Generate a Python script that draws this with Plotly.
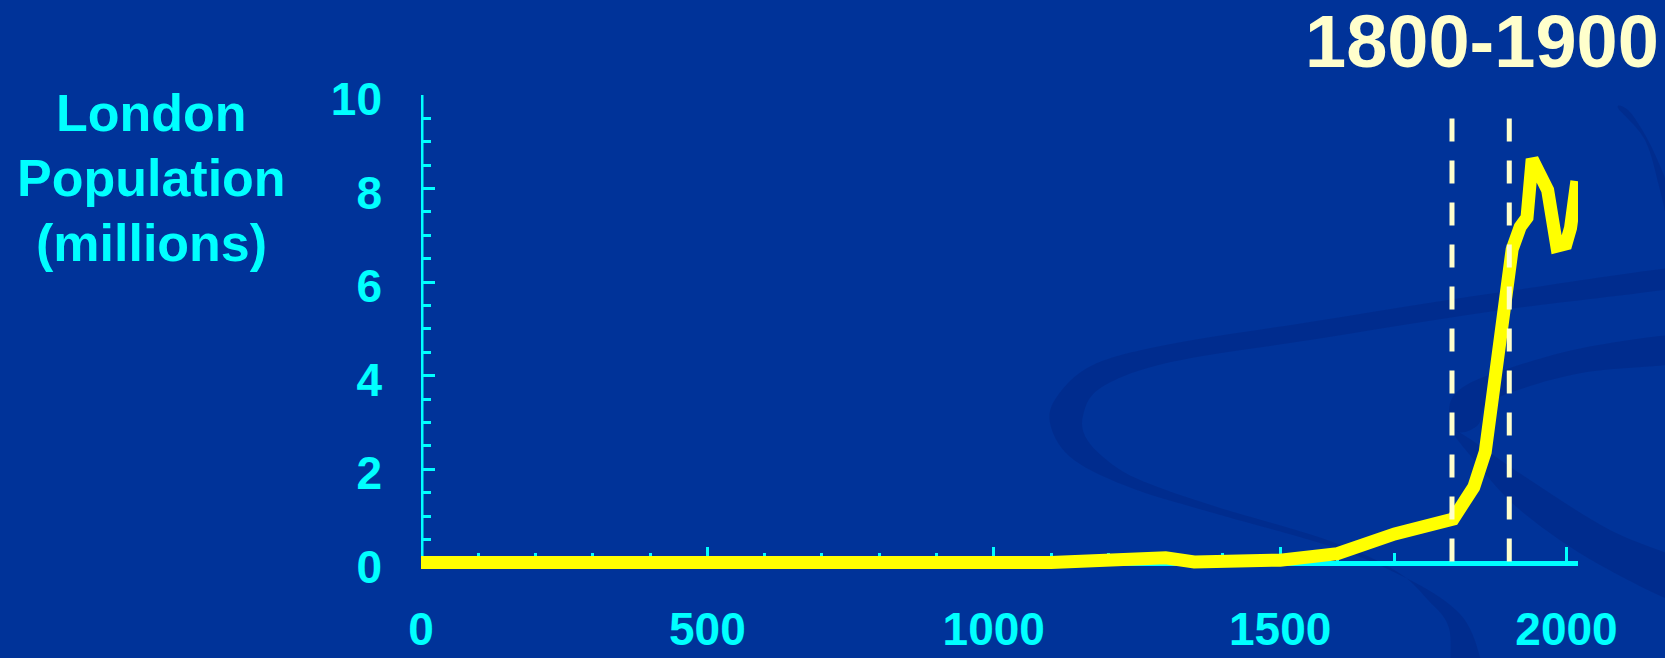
import plotly.graph_objects as go

# London population over two millennia (millions)
years = [0, 50, 140, 300, 1100, 1300, 1350, 1500, 1600, 1700, 1750, 1802, 1838,
         1858, 1905, 1919, 1931, 1940, 1967, 1983, 1999, 2007, 2018]
population = [0.01, 0.01, 0.05, 0.01, 0.01, 0.11, 0.02, 0.06, 0.20, 0.62, 0.77, 0.94,
              1.62, 2.37, 6.70, 7.18, 7.38, 8.63, 7.97, 6.77, 6.82, 7.16, 8.16]

period_marks = [1800, 1900]
period_label = "1800-1900"

x_tick_vals = [0, 500, 1000, 1500, 2000]
y_tick_vals = [0, 2, 4, 6, 8, 10]
y_title_lines = ["London", "Population", "(millions)"]

BG = "#003399"
SWOOSH = "rgba(0, 20, 100, 0.2)"
CYAN = "#00FFFF"
CREAM = "#FFFFCC"
YELLOW = "#FFFF00"
FONT = "Liberation Sans, Arial, sans-serif"

W, H = 1665, 658
L, R, T, B = 421, 87, 95, 81
Y_MIN, Y_MAX = -0.3, 10
X_MIN, X_MAX = 0, 2020


def paper_x(px):
    return (px - L) / (W - L - R)


def paper_y(py):
    return (H - B - py) / (H - T - B)


def smooth_path(points):
    """Closed Catmull-Rom outline through pixel points, as an SVG path in paper units."""
    pts = [(paper_x(x), paper_y(y)) for x, y in points]
    n = len(pts)
    d = f"M{pts[0][0]:.5f},{pts[0][1]:.5f}"
    for i in range(n):
        p0 = pts[(i - 1) % n]
        p1 = pts[i]
        p2 = pts[(i + 1) % n]
        p3 = pts[(i + 2) % n]
        c1 = (p1[0] + (p2[0] - p0[0]) / 6, p1[1] + (p2[1] - p0[1]) / 6)
        c2 = (p2[0] - (p3[0] - p1[0]) / 6, p2[1] - (p3[1] - p1[1]) / 6)
        d += (f" C{c1[0]:.5f},{c1[1]:.5f} {c2[0]:.5f},{c2[1]:.5f}"
              f" {p2[0]:.5f},{p2[1]:.5f}")
    return d + " Z"


# decorative background ribbons (pixel outlines)
ribbons = [
    [(1700, 265), (1495, 293), (1310, 322), (1171, 344), (1093, 365), (1056, 398),
     (1051, 427), (1074, 460), (1134, 489), (1217, 514), (1333, 547), (1402, 576),
     (1449, 604), (1472, 633), (1482, 680), (1453, 680), (1449, 628), (1428, 600),
     (1396, 571), (1330, 541), (1217, 507), (1150, 484), (1116, 467), (1088, 441),
     (1083, 416), (1102, 387), (1171, 362), (1310, 340), (1495, 311), (1700, 284)],
    [(1700, 334), (1587, 347), (1495, 373), (1458, 391), (1449, 412), (1458, 432),
     (1478, 425), (1486, 405), (1518, 390), (1587, 372), (1700, 360)],
    [(1455, 430), (1530, 480), (1610, 530), (1700, 570), (1700, 610), (1600, 565),
     (1520, 510), (1470, 455)],
    [(1618, 108), (1645, 140), (1660, 190), (1672, 240), (1672, 200), (1652, 148),
     (1630, 112)],
]

fig = go.Figure()
fig.add_trace(go.Scatter(
    x=years, y=population, mode="lines",
    line=dict(color=YELLOW, width=13),
    hoverinfo="skip", showlegend=False,
))

for outline in ribbons:
    fig.add_shape(type="path", xref="paper", yref="paper", path=smooth_path(outline),
                  fillcolor=SWOOSH, line=dict(width=0), layer="below")

# y axis spine from 0 to 10
fig.add_shape(type="line", xref="x", yref="y", x0=0, x1=0, y0=0, y1=Y_MAX,
              line=dict(color=CYAN, width=5), layer="below")

# dashed markers bounding the period
for yr in period_marks:
    fig.add_shape(type="line", xref="x", yref="y", x0=yr, x1=yr, y0=9.5, y1=0,
                  line=dict(color=CREAM, width=5, dash="23px,19px"), layer="above")

fig.add_annotation(text=period_label, xref="paper", yref="paper",
                   x=paper_x(1482), y=paper_y(42), xanchor="center", yanchor="middle",
                   showarrow=False, font=dict(family=FONT, size=74, color=CREAM, weight=700))

for line_text, cy in zip(y_title_lines, [113, 178, 243]):
    fig.add_annotation(text=line_text, xref="paper", yref="paper",
                       x=paper_x(151), y=paper_y(cy), xanchor="center", yanchor="middle",
                       showarrow=False, font=dict(family=FONT, size=52, color=CYAN, weight=700))

fig.update_layout(
    width=W, height=H, autosize=False,
    margin=dict(l=L, r=R, t=T, b=B, pad=0),
    paper_bgcolor=BG, plot_bgcolor="rgba(0,0,0,0)",
    showlegend=False,
    xaxis=dict(
        range=[X_MIN, X_MAX], anchor="free", position=(0 - Y_MIN) / (Y_MAX - Y_MIN),
        automargin=False,
        showline=True, linecolor=CYAN, linewidth=5,
        showgrid=False, zeroline=False,
        tickmode="array", tickvals=x_tick_vals, ticktext=[str(v) for v in x_tick_vals],
        ticks="inside", ticklen=14, tickwidth=3, tickcolor=CYAN,
        minor=dict(dtick=100, tick0=0, ticks="inside", ticklen=8, tickwidth=3,
                   tickcolor=CYAN, showgrid=False),
        tickfont=dict(family=FONT, size=46, color=CYAN, weight=700),
        ticklabelstandoff=24, layer="below traces",
    ),
    yaxis=dict(
        range=[Y_MIN, Y_MAX], automargin=False,
        showline=False, showgrid=False, zeroline=False,
        tickmode="array", tickvals=y_tick_vals, ticktext=[str(v) for v in y_tick_vals],
        ticks="inside", ticklen=14, tickwidth=3, tickcolor=CYAN,
        minor=dict(dtick=0.5, tick0=0, ticks="inside", ticklen=10, tickwidth=3,
                   tickcolor=CYAN, showgrid=False),
        tickfont=dict(family=FONT, size=46, color=CYAN, weight=700),
        ticklabelstandoff=38, ticklabelshift=4, layer="below traces",
    ),
)

fig.write_html("out.html")
